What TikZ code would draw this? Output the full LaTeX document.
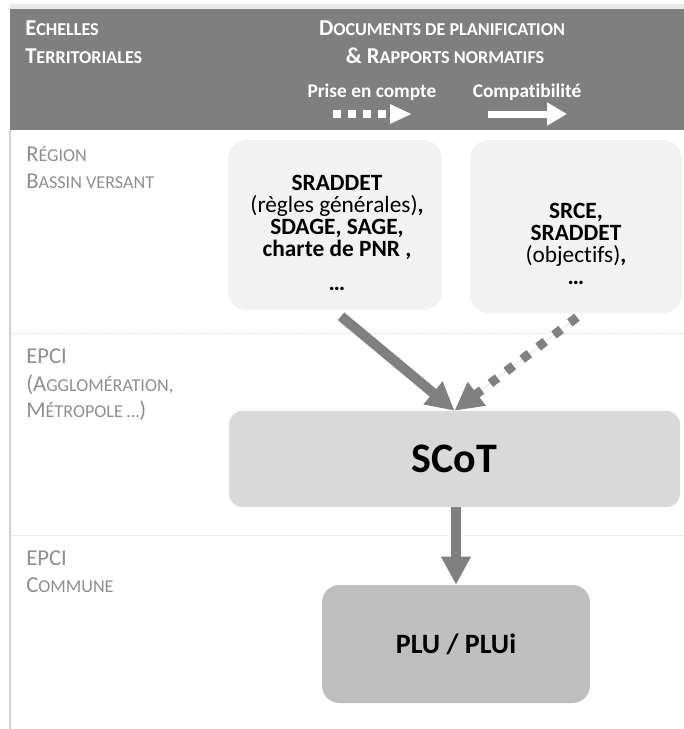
\documentclass[tikz,border=0pt]{standalone}
\usepackage{fontspec}
\setmainfont{Carlito}[Ligatures=CommonOff]
\usetikzlibrary{calc}
\usetikzlibrary{arrows.meta}
\definecolor{colHead}{HTML}{7F7F7F}
\definecolor{colLab}{HTML}{8E8E8E}
\definecolor{colBoxA}{HTML}{F2F2F2}
\definecolor{colBoxB}{HTML}{D9D9D9}
\definecolor{colBoxC}{HTML}{BFBFBF}
\definecolor{colArr}{HTML}{808080}
\definecolor{colSep}{HTML}{E4E4E4}
\definecolor{colFrame}{HTML}{D2D2D2}
% fake small capitals
\newcommand{\smc}[1]{{\fontsize{\the\dimexpr 0.8\fontdimen6\font\relax}{\baselineskip}\selectfont #1}}

\begin{document}
\begin{tikzpicture}[x=0.75pt,y=-0.75pt,
    headtxt/.style={text=white,inner sep=0pt,font=\bfseries\fontsize{17}{20}\selectfont},
    legtxt/.style={text=white,inner sep=0pt,font=\bfseries\fontsize{14.5}{17}\selectfont},
    labtxt/.style={text=colLab,inner sep=0pt,anchor=base west,font=\fontsize{17}{20}\selectfont},
    boxtxt/.style={align=center,inner sep=0pt,font=\bfseries\fontsize{17.5}{16.5}\selectfont},
    docbox/.style={fill=colBoxA,rounded corners=14pt,inner sep=0pt},
    bigarrow/.style={draw=colArr,fill=colArr,line width=7.5pt,-{Triangle[width=21pt,length=21pt]}}]

  \useasboundingbox (0,0) rectangle (684,729);

 % ================================================================
 % frame and header
 % ================================================================
  \fill[colFrame!50] (10,4) rectangle (684,9);
  \fill[colHead] (10,9) rectangle (684,130);
  \draw[colFrame,line width=1.5pt] (10,130) -- (10,729);

  % separators
  \draw[colSep,line width=0.75pt,dash pattern=on 1.5pt off 0.75pt] (11,333) -- (684,333);
  \draw[colSep,line width=0.75pt,dash pattern=on 1.5pt off 0.75pt] (11,535) -- (684,535);

  % titles
  \node[headtxt,anchor=base west] (echA) at (25,35) {E\smc{CHELLES}};
  \node[headtxt,anchor=base west] (echB) at (25,63) {T\smc{ERRITORIALES}};
  \node[headtxt,anchor=base] (docA) at (442,35) {D\smc{OCUMENTS DE PLANIFICATION}};
  \node[headtxt,anchor=base] (docB) at (445,63) {\& R\smc{APPORTS NORMATIFS}};

  % legend
  \node[legtxt,anchor=base] (pec) at (372,97) {Prise en compte};
  \node[legtxt,anchor=base] (compat) at (527,97) {Compatibilité};
  \coordinate (pecA) at (333,114);
  \coordinate (pecB) at (412,114);
  \coordinate (comA) at (488,114);
  \coordinate (comB) at (567,114);
  \draw[white,line width=6pt,dash pattern=on 6pt off 5.25pt,-{Triangle[width=13.5pt,length=16.5pt]}] (pecA) -- (pecB);
  \draw[white,line width=5.25pt,-{Triangle[width=16.5pt,length=15pt]}] (comA) -- (comB);

 % ================================================================
 % scales
 % ================================================================
  \node[labtxt] (reg) at (26,161) {R\smc{ÉGION}};
  \node[labtxt] (bassin) at (26,188) {B\smc{ASSIN VERSANT}};
  \node[labtxt] (epciA) at (26,363) {EPCI};
  \node[labtxt] (agglo) at (26,391) {(A\smc{GGLOMÉRATION,}};
  \node[labtxt] (metro) at (26,417) {M\smc{ÉTROPOLE …})};
  \node[labtxt] (epciB) at (26,565) {EPCI};
  \node[labtxt] (commune) at (26,592) {C\smc{OMMUNE}};

 % ================================================================
 % documents
 % ================================================================
  \node[docbox,minimum width=160.5pt,minimum height=127.5pt] (srad) at (335,225) {};
  \node[docbox,minimum width=159pt,minimum height=129.75pt] (srce) at (576,226.5) {};
  \node[boxtxt] (sradtxt) at (337,233) {SRADDET\\{\mdseries(règles générales)},\\SDAGE, SAGE,\\charte de PNR ,\\[9pt]…};
  \node[boxtxt] (srcetxt) at (576,244) {SRCE,\\SRADDET\\{\mdseries(objectifs)},\\…};

  \node[fill=colBoxB,rounded corners=10pt,minimum width=338.25pt,minimum height=72pt,
        font=\bfseries\fontsize{31.5}{36}\selectfont] (scot) at (454.5,459) {SCoT};
  \node[fill=colBoxC,rounded corners=13pt,minimum width=201pt,minimum height=88.5pt,
        font=\bfseries\fontsize{21}{25}\selectfont] (plu) at (456,644) {PLU / PLUi};

  % links
  \draw[bigarrow] ($(srad.south)+(6,6)$) -- (scot.north);
  \draw[bigarrow,line width=6.75pt,dash pattern=on 6.75pt off 8.25pt] ($(srce.south)+(1,4)$) -- (scot.north);
  \draw[bigarrow] (scot.south -| plu.north) -- (plu.north);

\end{tikzpicture}
\end{document}
